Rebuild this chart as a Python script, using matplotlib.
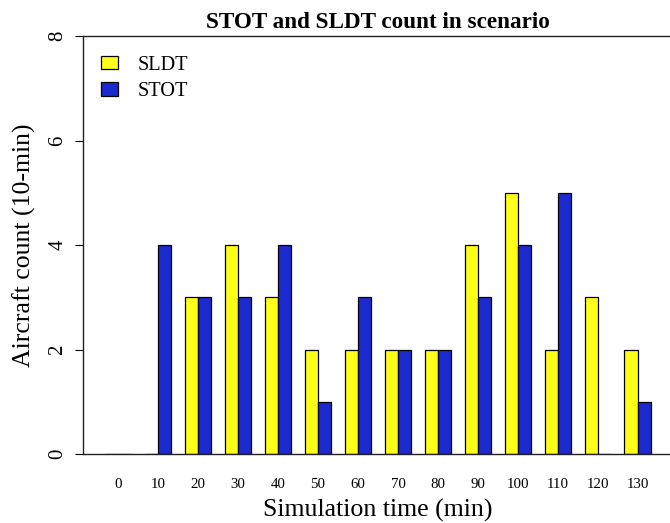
import matplotlib

matplotlib.use("Agg")
import matplotlib.pyplot as plt
import numpy as np

plt.rcParams["font.family"] = ["Liberation Serif", "DejaVu Serif"]

# simulation time bins (min) and aircraft counts per 10-min window
times = ["0", "10", "20", "30", "40", "50", "60", "70", "80", "90", "100", "110", "120", "130"]
sldt = [0, 0, 3, 4, 3, 2, 2, 2, 2, 4, 5, 2, 3, 2]
stot = [0, 4, 3, 3, 4, 1, 3, 2, 2, 3, 4, 5, 0, 1]
series_names = ["SLDT", "STOT"]
series_colors = ["#FFFF1A", "#1B2ACF"]

W, H = 670, 523
fig = plt.figure(figsize=(W / 100, H / 100), dpi=100)
# plot box runs slightly past the right edge, like the cropped R figure
ax = fig.add_axes([83 / W, 69 / H, 590 / W, 418 / H])

x = np.arange(len(times))
bw = 1 / 3
for vals, name, col, off in zip([sldt, stot], series_names, series_colors, [-bw / 2, bw / 2]):
    ax.bar(x + off, vals, width=bw, color=col, edgecolor="black", linewidth=0.9, label=name)

ax.set_xlim(-0.88, 13.88)
ax.set_ylim(0, 8)
ax.set_yticks([0, 2, 4, 6, 8])
ax.set_xticks(x)
ax.set_xticklabels(times, fontsize=10.7)
ax.tick_params(axis="x", length=0, pad=17)
ax.tick_params(axis="y", length=5.8, width=0.8, labelsize=15, pad=5.5)
for lab in ax.get_yticklabels():
    lab.set_rotation(90)
    lab.set_va("center")

for sp in ax.spines.values():
    sp.set_linewidth(1.0)
    sp.set_color("#222222")

ax.set_title("STOT and SLDT count in scenario", fontsize=16.7, fontweight="bold", pad=5.5)
ax.set_xlabel("Simulation time (min)", fontsize=18.6)
ax.set_ylabel("Aircraft count (10-min)", fontsize=18.5)
ax.xaxis.set_label_coords(0.5, -0.108)
ax.yaxis.set_label_coords(-0.08, 0.5)

ax.legend(loc="upper left", bbox_to_anchor=(0.031, 0.953), frameon=False, fontsize=14.6,
          handlelength=0.8, handleheight=0.64, handletextpad=0.99, labelspacing=0.36,
          borderpad=0, borderaxespad=0)

fig.savefig("out.png", dpi=100)
plt.close(fig)
